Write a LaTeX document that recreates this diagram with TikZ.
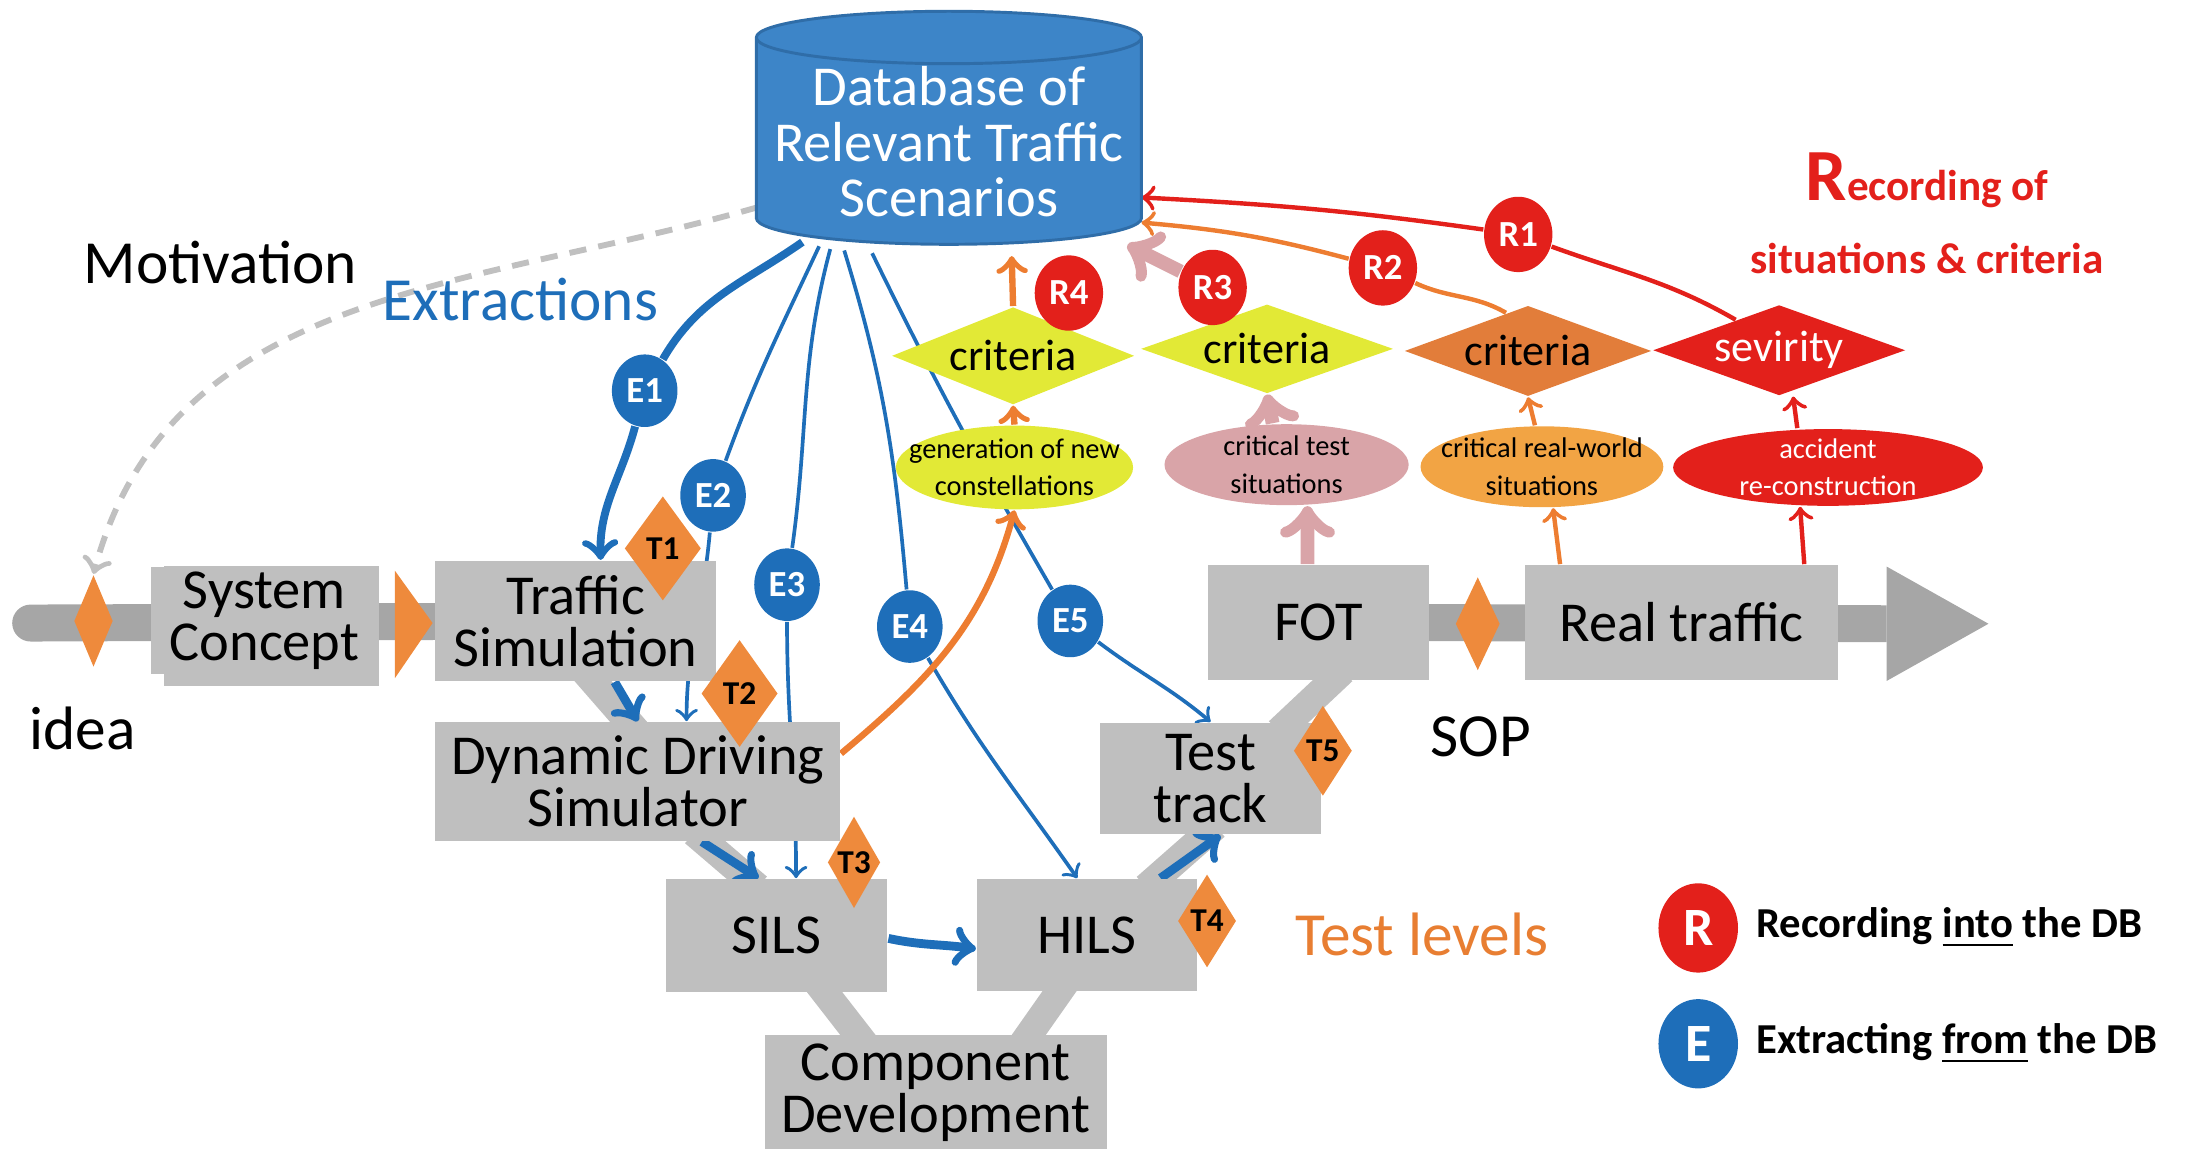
\documentclass[tikz,border=0pt]{standalone}
\usepackage{fontspec}
\setmainfont{Carlito}
\usetikzlibrary{positioning,shapes.geometric,backgrounds}

\definecolor{boxgray}{HTML}{BFBFBF}
\definecolor{spinegray}{HTML}{A6A6A6}
\definecolor{mileorange}{HTML}{EE8A3C}
\definecolor{extblue}{HTML}{1E6EB9}
\definecolor{dbblue}{HTML}{3D85C8}
\definecolor{dbedge}{HTML}{2F6DA8}
\definecolor{recred}{HTML}{E3201B}
\definecolor{crityellow}{HTML}{E2E936}
\definecolor{critpink}{HTML}{D9A4A8}
\definecolor{critorange}{HTML}{E27D3A}
\definecolor{lightorange}{HTML}{F2A444}
\definecolor{arroworange}{HTML}{ED7D31}
\definecolor{levelorange}{HTML}{E87E32}
\definecolor{dashgray}{HTML}{C0C0C0}

\begin{document}
\begin{tikzpicture}[
	box/.style={fill=boxgray, inner sep=0pt, align=center, font=\fontsize{11.5}{10.6}\selectfont},
	milestone/.style={diamond, fill=mileorange, inner sep=0pt},
	tlevel/.style={diamond, fill=mileorange, inner sep=0pt, aspect=0.7, font=\bfseries\fontsize{6.8}{6.8}\selectfont},
	ecirc/.style={ellipse, fill=extblue, text=white, inner sep=0pt, minimum width=0.47cm, minimum height=0.52cm, font=\bfseries\fontsize{7.5}{7.5}\selectfont},
	rcirc/.style={ellipse, fill=recred, text=white, inner sep=0pt, minimum width=0.49cm, minimum height=0.54cm, font=\bfseries\fontsize{7.5}{7.5}\selectfont},
	crit/.style={diamond, aspect=2.5, inner sep=0pt, minimum width=1.78cm, minimum height=0.66cm, font=\fontsize{9}{9}\selectfont},
	sit/.style={ellipse, inner sep=0pt, minimum width=1.74cm, minimum height=0.58cm},
	sittext/.style={align=center, inner sep=0pt, font=\fontsize{5.8}{7.6}\selectfont},
	bigtext/.style={font=\fontsize{12.5}{12.5}\selectfont},
	legend/.style={font=\bfseries\fontsize{8.7}{8.7}\selectfont},
	bar/.style={boxgray, line width=0.2cm, shorten <=-0.1cm, shorten >=-0.1cm},
	ext/.style={->, extblue, line width=0.75pt},
	chain/.style={->, extblue, line width=1.8pt},
	rec/.style={->, line width=0.9pt},
]
	\useasboundingbox (0, 0) rectangle (15.68, -8.23);

	\coordinate (spinestart) at (0.22, -4.465);
	\coordinate (spineend) at (13.52, -4.47);

	\node (db) at (6.80, -1.015) [cylinder, shape border rotate=90, aspect=0.15, minimum width=2.76cm, minimum height=1.67cm, draw=dbedge, line width=0.6pt, fill=dbblue, text=white, align=center, inner sep=0pt, font=\fontsize{11.5}{11.4}\selectfont] {Database of\\Relevant Traffic\\Scenarios};

	\node (motivation) at (1.58, -1.88) [bigtext, fill=white] {Motivation};
	\node (extractions) at (3.73, -2.15) [bigtext, text=extblue] {Extractions};
	\node (rechead) at (13.81, -1.53) [align=center, text=recred, font=\bfseries\fontsize{8.8}{15}\selectfont] {{\fontsize{15}{15}\selectfont R}ecording of\\situations \& criteria};

	\node (idea) at (0.67, -4.45) [milestone, minimum width=0.28cm, minimum height=0.66cm] {};
	\node (ideatext) at (0.59, -5.22) [bigtext] {idea};
	\node (sysconcept) at (1.895, -4.445) [box, minimum width=1.63cm, minimum height=0.77cm] {System\\Concept};
	\fill [mileorange] (2.83, -4.09) -- (3.10, -4.465) -- (2.83, -4.86) -- cycle;
	\node (trafsim) at (4.125, -4.45) [box, minimum width=2.01cm, minimum height=0.86cm] {Traffic\\Simulation};
	\node (dds) at (4.57, -5.60) [box, minimum width=2.90cm, minimum height=0.85cm] {Dynamic Driving\\Simulator};
	\node (sils) at (5.565, -6.705) [box, minimum width=1.59cm, minimum height=0.81cm] {SILS};
	\node (hils) at (7.79, -6.70) [box, minimum width=1.58cm, minimum height=0.80cm] {HILS};
	\node (compdev) at (6.705, -7.83) [box, minimum width=2.45cm, minimum height=0.82cm] {Component\\Development};
	\node (testtrack) at (8.675, -5.58) [box, minimum width=1.59cm, minimum height=0.80cm] {Test\\track};
	\node (fot) at (9.45, -4.46) [box, minimum width=1.58cm, minimum height=0.82cm] {FOT};
	\node (sop) at (10.59, -4.47) [milestone, minimum width=0.32cm, minimum height=0.67cm] {};
	\node (soptext) at (10.61, -5.28) [bigtext] {SOP};
	\node (realtraffic) at (12.05, -4.46) [box, minimum width=2.24cm, minimum height=0.82cm] {Real traffic};

	\node (t1) at (4.75, -3.93) [tlevel, minimum width=0.55cm, minimum height=0.75cm] {T1};
	\node (t2) at (5.30, -4.97) [tlevel, minimum width=0.55cm, minimum height=0.77cm] {T2};
	\node (t3) at (6.12, -6.18) [tlevel, minimum width=0.38cm, minimum height=0.66cm] {T3};
	\node (t4) at (8.65, -6.60) [tlevel, minimum width=0.42cm, minimum height=0.67cm] {T4};
	\node (t5) at (9.48, -5.38) [tlevel, minimum width=0.42cm, minimum height=0.65cm] {T5};
	\node (testlevels) at (10.19, -6.70) [bigtext, text=levelorange] {Test levels};

	\node (crit1) at (7.26, -2.55) [crit, fill=crityellow, minimum width=1.74cm, minimum height=0.70cm] {criteria};
	\node (crit2) at (9.08, -2.50) [crit, fill=crityellow, minimum width=1.81cm, minimum height=0.64cm] {criteria};
	\node (crit3) at (10.95, -2.515) [crit, fill=critorange, minimum width=1.77cm, minimum height=0.65cm] {criteria};
	\node (crit4) at (12.75, -2.51) [crit, fill=recred, text=white, minimum width=1.81cm, minimum height=0.65cm] {sevirity};

	\node (gen) at (7.27, -3.35) [sit, fill=crityellow, minimum width=1.70cm, minimum height=0.60cm, label={[sittext]center:{generation of new\\constellations}}] {};
	\node (crittest) at (9.22, -3.33) [sit, fill=critpink, minimum width=1.75cm, label={[sittext]center:{critical test\\situations}}] {};
	\node (critreal) at (11.05, -3.345) [sit, fill=lightorange, label={[sittext]center:{critical real-world\\situations}}] {};
	\node (accident) at (13.10, -3.35) [sit, fill=recred, minimum width=2.22cm, minimum height=0.55cm, label={[sittext, text=white]center:{accident\\re-construction}}] {};

	\node (e1) at (4.62, -2.80) [ecirc] {E1};
	\node (e2) at (5.11, -3.55) [ecirc] {E2};
	\node (e3) at (5.64, -4.19) [ecirc] {E3};
	\node (e4) at (6.52, -4.49) [ecirc] {E4};
	\node (e5) at (7.67, -4.45) [ecirc] {E5};
	\node (r1) at (10.88, -1.68) [rcirc] {R1};
	\node (r2) at (9.91, -1.92) [rcirc] {R2};
	\node (r3) at (8.69, -2.06) [rcirc] {R3};
	\node (r4) at (7.66, -2.10) [rcirc] {R4};

	\node (rkey) at (12.17, -6.65) [rcirc, minimum width=0.57cm, minimum height=0.64cm, font=\bfseries\fontsize{11}{11}\selectfont] {R};
	\node (rkeytext) [legend, right=0cm of rkey] {Recording \underline{into} the DB};
	\node (ekey) at (12.17, -7.48) [ecirc, minimum width=0.57cm, minimum height=0.64cm, font=\bfseries\fontsize{11}{11}\selectfont] {E};
	\node (ekeytext) [legend, right=0cm of ekey] {Extracting \underline{from} the DB};

	\begin{scope}[on background layer]
		\draw [spinegray, line width=0.265cm, line cap=round] (spinestart) -- (trafsim.center);
		\draw [spinegray, line width=0.265cm] (fot.center) -- (spineend);
		\fill [spinegray] ([yshift=0.41cm]spineend) -- ([xshift=0.73cm]spineend) -- ([yshift=-0.41cm]spineend) -- cycle;
		\fill [boxgray] ([shift={(0.1, -0.08)}]sysconcept.south west) rectangle (sysconcept.north east);

		\draw [bar] ([xshift=0.13cm]trafsim.south) -- ([xshift=-0.07cm]dds.north);
		\draw [bar] ([xshift=0.48cm]dds.south) -- ([xshift=-0.21cm]sils.north);
		\draw [bar] ([xshift=0.35cm]sils.south) -- ([xshift=-0.56cm]compdev.north);
		\draw [bar] ([xshift=-0.20cm]hils.south) -- ([xshift=0.67cm]compdev.north);
		\draw [bar] ([xshift=-0.30cm]hils.north east) -- ([xshift=-0.04cm]testtrack.south);
		\draw [bar] ([xshift=0.56cm]testtrack.north) -- ([xshift=0.10cm]fot.south);

		\draw [->, dashgray, line width=1.2pt, dash pattern=on 3.5pt off 2.5pt] ([shift={(-1.37, -0.47)}]db.center) to [out=196, in=75] (idea.north);

		\draw [ext, line width=1.6pt] ([shift={(-1.05, -0.72)}]db.center) to [out=215, in=60] (e1) to [out=255, in=92] ([xshift=0.18cm]trafsim.north);
		\draw [ext] ([shift={(-0.93, -0.75)}]db.center) to [out=245, in=70] (e2) to [out=265, in=90] ([xshift=0.35cm]dds.north);
		\draw [ext] ([shift={(-0.85, -0.77)}]db.center) to [out=255, in=82] (e3) to [out=270, in=90] ([xshift=0.14cm]sils.north);
		\draw [ext] ([shift={(-0.75, -0.78)}]db.center) to [out=287, in=95] (e4) to [out=300, in=125] ([xshift=-0.07cm]hils.north);
		\draw [ext] ([shift={(-0.55, -0.80)}]db.center) to [out=296, in=120] (e5) to [out=323, in=140] (testtrack.north);

		\draw [chain] ([xshift=0.28cm]trafsim.south) -- (dds.north);
		\draw [chain] ([xshift=0.46cm]dds.south) -- ([xshift=-0.13cm]sils.north);
		\draw [chain] ([yshift=-0.02cm]sils.east) to [out=-12, in=172] ([yshift=-0.1cm]hils.west);
		\draw [chain] ([xshift=-0.27cm]hils.north east) -- ([xshift=0.07cm]testtrack.south);

		\draw [rec, arroworange, line width=1.3pt] ([yshift=0.2cm]dds.east) to [out=40, in=255] (gen.south);
		\draw [rec, arroworange, line width=1.3pt] (gen.north) -- (crit1.south);
		\draw [rec, arroworange, line width=1.3pt] (crit1.north) -- ([shift={(0.45, -0.82)}]db.center);

		\draw [rec, critpink, line width=2.8pt] ([xshift=-0.08cm]fot.north) -- ([xshift=0.15cm]crittest.south);
		\draw [rec, critpink, line width=2.8pt] ([xshift=-0.10cm]crittest.north) -- (crit2.south);
		\draw [rec, critpink, line width=2.8pt] (crit2.145) -- (r3) -- ([shift={(1.28, -0.74)}]db.center);

		\draw [rec, arroworange] ([xshift=-0.87cm]realtraffic.north) -- ([xshift=0.08cm]critreal.south);
		\draw [rec, arroworange] ([xshift=-0.05cm]critreal.north) -- (crit3.south);
		\draw [rec, arroworange] (crit3.120) to [out=150, in=-25] (r2) to [out=165, in=-5] ([shift={(1.38, -0.58)}]db.center);

		\draw [rec, recred] ([xshift=0.88cm]realtraffic.north) -- ([xshift=-0.20cm]accident.south);
		\draw [rec, recred] ([xshift=-0.22cm]accident.north) -- ([xshift=0.10cm]crit4.south);
		\draw [rec, recred] (crit4.145) to [out=150, in=-20] (r1) to [out=172, in=-3] ([shift={(1.38, -0.40)}]db.center);
	\end{scope}
\end{tikzpicture}
\end{document}
